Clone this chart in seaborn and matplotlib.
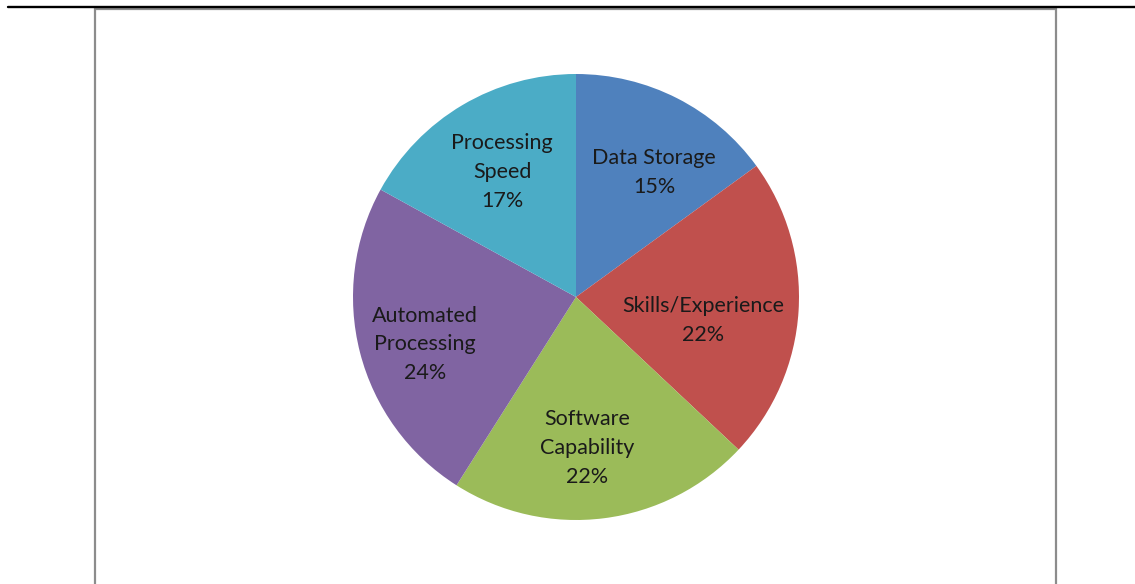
import matplotlib.pyplot as plt
import matplotlib.patches as mpatches
import matplotlib.lines as mlines
import numpy as np
import seaborn as sns

sns.set_theme(style="white")
plt.rcParams['font.family'] = ['Lato', 'DejaVu Sans']

# data
categories = ['Data Storage', 'Skills/Experience', 'Software\nCapability',
              'Automated\nProcessing', 'Processing\nSpeed']
shares = [15, 22, 22, 24, 17]
colors = sns.color_palette(['#4F81BD', '#C0504D', '#9BBB59', '#8064A2', '#4BACC6'])

# label placement (fraction of radius, angle nudge in degrees)
label_r = [0.66, 0.58, 0.68, 0.71, 0.65]
label_nudge = [-5, -7, -3, 3, 0]

fig = plt.figure(figsize=(11.35, 5.84), dpi=100)

# frame around the chart and the rule at the top
fig.add_artist(mlines.Line2D([8 / 1135, 1.0], [1 - 7 / 584, 1 - 7 / 584],
                             color='black', lw=1.7))
fig.add_artist(mpatches.Rectangle((95 / 1135, -0.05), 961 / 1135, 1.05 - 9 / 584,
                                  fill=False, edgecolor='#8c8c8c', lw=1.6))

ax = fig.add_axes([353 / 1135, 64 / 584, 446 / 1135, 446 / 584])
wedges, _ = ax.pie(shares, colors=colors, startangle=90, counterclock=False,
                   wedgeprops=dict(linewidth=0))
ax.set_xlim(-1, 1)
ax.set_ylim(-1, 1)
ax.set_aspect('equal')
ax.axis('off')

# labels inside wedges
for w, name, val, r, dn in zip(wedges, categories, shares, label_r, label_nudge):
    ang = np.deg2rad((w.theta1 + w.theta2) / 2 + dn)
    ax.text(r * np.cos(ang), r * np.sin(ang), f"{name}\n{val}%",
            ha='center', va='center', fontsize=15.5, color='#1a1a1a',
            linespacing=1.55)

fig.savefig('out.png', dpi=100)
